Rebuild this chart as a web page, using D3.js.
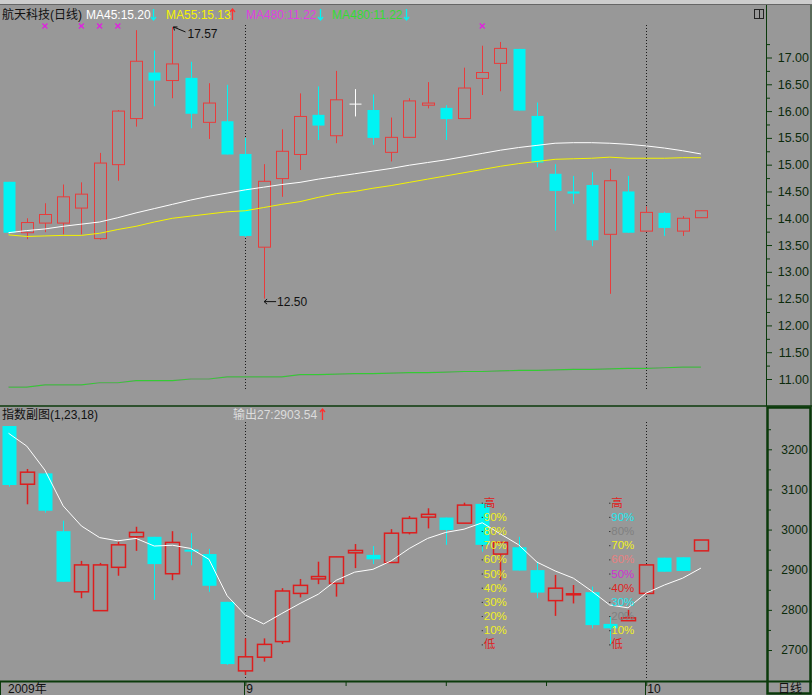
<!DOCTYPE html>
<html><head><meta charset="utf-8">
<script src="https://cdn.jsdelivr.net/npm/d3@7"></script>
<style>
html,body{margin:0;padding:0;background:#989898;overflow:hidden;}
svg{display:block;}
text{font-family:"Liberation Sans","Noto Sans CJK SC",sans-serif;}
</style></head><body>
<svg id="c" width="812" height="695"></svg>
<script>
// ---------- DATA ----------
const dates = ["08-13","08-14","08-17","08-18","08-19","08-20","08-21","08-24","08-25","08-26","08-27","08-28","08-31",
 "09-01","09-02","09-03","09-04","09-07","09-08","09-09","09-10","09-11","09-14","09-15","09-16","09-17","09-18",
 "09-21","09-22","09-23","09-24","09-25","09-28","09-29","09-30","10-09","10-12","10-13","10-14"];
const stockOpen  = [14.68,13.73,13.91,13.91,14.19,13.62,15.00,15.86,16.72,16.57,16.62,15.79,15.81,15.20,13.46,14.74,15.19,15.93,15.54,16.13,16.02,15.23,15.51,16.11,16.06,15.86,16.61,16.89,17.16,15.91,14.83,14.50,14.62,13.70,14.50,13.76,14.10,13.76,14.01];
const stockHigh  = [14.68,14.00,14.28,14.63,14.67,15.22,16.02,17.51,17.13,17.57,16.92,16.52,16.49,15.50,15.01,15.66,16.33,16.46,16.75,16.41,16.31,15.88,16.24,16.54,16.11,16.81,17.22,17.29,17.16,16.16,15.01,14.79,14.86,14.92,14.79,14.22,14.12,14.04,14.14];
const stockLow   = [13.70,13.61,13.74,13.70,13.70,13.60,14.70,15.71,16.09,16.24,15.68,15.48,15.19,13.65,12.50,14.40,14.90,15.46,15.40,15.90,15.37,15.06,15.50,16.05,15.46,15.86,16.30,16.37,16.01,14.95,13.77,14.27,13.48,12.59,13.73,13.76,13.67,13.67,14.01];
const stockClose = [13.73,13.92,14.07,14.40,14.45,15.03,16.00,16.93,16.57,16.88,15.95,16.15,15.19,13.67,14.69,15.25,15.90,15.73,16.21,16.13,15.50,15.51,16.19,16.15,15.85,16.43,16.72,17.17,16.01,15.04,14.51,14.46,13.59,14.70,13.73,14.11,13.82,14.00,14.14];
const ma45  = [13.73,13.77,13.80,13.85,13.89,13.93,14.01,14.10,14.18,14.26,14.34,14.41,14.47,14.53,14.58,14.63,14.67,14.73,14.78,14.83,14.88,14.93,14.99,15.04,15.09,15.15,15.21,15.27,15.32,15.36,15.40,15.41,15.41,15.40,15.38,15.35,15.31,15.26,15.20];
const ma55  = [13.69,13.66,13.67,13.68,13.68,13.72,13.79,13.85,13.93,14.00,14.04,14.08,14.12,14.14,14.20,14.26,14.31,14.39,14.46,14.50,14.56,14.61,14.67,14.73,14.79,14.85,14.91,14.97,15.02,15.06,15.10,15.11,15.12,15.14,15.12,15.12,15.12,15.13,15.13];
const ma480 = [10.85,10.85,10.89,10.89,10.89,10.93,10.93,10.97,10.97,10.97,11.00,11.00,11.04,11.04,11.04,11.04,11.08,11.08,11.09,11.10,11.10,11.11,11.12,11.12,11.13,11.14,11.14,11.15,11.16,11.16,11.17,11.18,11.18,11.19,11.20,11.20,11.21,11.22,11.22];
const signalDays = [2,4,5,6,26];

const idxOpen  = [3258,3113,3140,2996,2845,2798,2906,2982,2982,2890,2950,2939,2820,2648,2682,2721,2841,2877,2866,2942,2937,2918,2992,3031,3030,3016,3064,2939,2956,2899,2823,2838,2844,2765,2773,2841,2930,2931,2947];
const idxHigh  = [3258,3151,3140,3022,2922,2917,2970,3007,2982,2996,2991,2952,2820,2729,2729,2854,2877,2920,2932,2964,2959,3001,3034,3053,3030,3067,3064,2968,2982,2920,2887,2862,2858,2783,2800,2912,2930,2931,2974];
const idxLow   = [3107,3063,3042,2870,2829,2798,2885,2947,2825,2874,2911,2845,2663,2638,2671,2715,2831,2864,2833,2904,2914,2918,2988,3003,2962,3016,2945,2874,2898,2829,2785,2816,2754,2715,2773,2841,2895,2897,2947];
const idxClose = [3111,3143,3047,2870,2912,2912,2962,2993,2914,2968,2945,2860,2665,2683,2714,2847,2861,2883,2932,2948,2926,2991,3028,3038,2999,3061,2962,2968,2898,2843,2854,2840,2762,2754,2780,2912,2895,2897,2974];
const idxOut   = [3240,3208,3148,3059,3009,2980,2972,2978,2959,2961,2953,2926,2835,2787,2765,2791,2816,2839,2874,2894,2901,2922,2953,2978,2993,3001,3017,2989,2962,2919,2897,2879,2847,2812,2805,2842,2862,2879,2904];

const priceTicks = [11,11.5,12,12.5,13,13.5,14,14.5,15,15.5,16,16.5,17];
const indexTicks = [2700,2800,2900,3000,3100,3200];
const monthTickIdx = [13,35];
const monthLabels = ["9","10"];
const yearLabel = "2009年";
const pctLabels = ["高","90%","80%","70%","60%","50%","40%","30%","20%","10%","低"];
const pctColorsA = ["#e02020","#f0f020","#f0f020","#f0f020","#f0f020","#f0f020","#f0f020","#f0f020","#f0f020","#f0f020","#e02020"];
const pctColorsB = ["#e02020","#20e8f0","#808080","#f0f020","#e88080","#d030d0","#e02020","#20e8f0","#808080","#f0f020","#e02020"];
const pctColumns = [26,33];
const pctTop = 3067, pctBottom = 2714;

// ---------- SCALES ----------
const BG = "#989898", RED = "#e83c3c", RED2 = "#dd1e1e", CYAN = "#00f4f4", GRID = "#0b3a0b";
const svg = d3.select("#c");
const x  = d3.scaleLinear().domain([0, 38]).range([8.5, 700.9]);
const yT = d3.scaleLinear().domain([11, 17]).range([379, 57.5]);
const yB = d3.scaleLinear().domain([2700, 3200]).range([650, 449.3]);

svg.append("rect").attr("width",812).attr("height",695).attr("fill",BG);
svg.append("rect").attr("width",812).attr("height",4).attr("fill","#cdcdcd");
svg.append("line").attr("x1",0).attr("x2",812).attr("y1",4.5).attr("y2",4.5).attr("stroke","#666");

const defs = svg.append("defs");
defs.append("clipPath").attr("id","cpT").append("rect").attr("x",0).attr("y",6).attr("width",766).attr("height",399);
defs.append("clipPath").attr("id","cpB").append("rect").attr("x",0).attr("y",408).attr("width",766).attr("height",272);

const gT = svg.append("g").attr("clip-path","url(#cpT)");
const gB = svg.append("g").attr("clip-path","url(#cpB)");

// dotted month lines
monthTickIdx.forEach(i => {
  const xx = Math.round(x(i)) + 0.5;
  gT.append("line").attr("x1",xx).attr("x2",xx).attr("y1",25).attr("y2",390)
    .attr("stroke","#1a1a1a").attr("stroke-dasharray","1,2");
  gB.append("line").attr("x1",xx).attr("x2",xx).attr("y1",422).attr("y2",680)
    .attr("stroke","#1a1a1a").attr("stroke-dasharray","1,2");
});

// ---------- CANDLES ----------
function candles(g, O, H, L, C, y, w, up, sw) {
  const data = O.map((o,i)=>({i, o, h:H[i], l:L[i], c:C[i]}));
  const col = d => d.c > d.o ? up : (d.c < d.o ? CYAN : "#ffffff");
  const cx = d => Math.round(x(d.i)) + 0.5;
  g.selectAll(null).data(data).join("line")
    .attr("x1",cx).attr("x2",cx).attr("y1",d=>y(d.h)).attr("y2",d=>y(d.l))
    .attr("stroke",col).attr("stroke-width",d=>d.c>d.o?sw:1);
  g.selectAll(null).data(data.filter(d=>d.c!==d.o)).join("rect")
    .attr("x",d=>cx(d)-w/2).attr("width",w)
    .attr("y",d=>y(Math.max(d.o,d.c)))
    .attr("height",d=>Math.max(1, y(Math.min(d.o,d.c)) - y(Math.max(d.o,d.c))))
    .attr("fill",d=>d.c>d.o?BG:CYAN)
    .attr("stroke",d=>d.c>d.o?up:"none").attr("stroke-width",sw);
  g.selectAll(null).data(data.filter(d=>d.c===d.o)).join("line")
    .attr("x1",d=>cx(d)-w/2).attr("x2",d=>cx(d)+w/2)
    .attr("y1",d=>y(d.o)).attr("y2",d=>y(d.o)).attr("stroke","#ffffff");
}

// MA lines (top)
const lineT = d3.line().x((d,i)=>x(i)).y(d=>yT(d));
gT.append("path").attr("d",lineT(ma480)).attr("fill","none").attr("stroke","#e040e0");
gT.append("path").attr("d",lineT(ma480)).attr("fill","none").attr("stroke","#33cc33").attr("stroke-width",1.2);
candles(gT, stockOpen, stockHigh, stockLow, stockClose, yT, 12, RED, 1);
gT.append("path").attr("d",lineT(ma55)).attr("fill","none").attr("stroke","#f4f400");
gT.append("path").attr("d",lineT(ma45)).attr("fill","none").attr("stroke","#ffffff");

// signal marks
gT.selectAll(null).data(signalDays).join("path")
  .attr("d",d=>{const cx=x(d); return `M${cx-2.5},${23.5}L${cx+2.5},${28.5}M${cx+2.5},${23.5}L${cx-2.5},${28.5}`;})
  .attr("stroke","#e020e0").attr("stroke-width",1.3);

// high / low annotations
const hiI = d3.maxIndex(stockHigh), loI = d3.minIndex(stockLow);
{
  const hx = x(hiI)+1, hy = yT(stockHigh[hiI]);
  gT.append("path").attr("d",`M${hx},${hy}L${hx+12},${hy+5}M${hx},${hy}l4,0M${hx},${hy}l1,3.5`)
    .attr("stroke","#111").attr("fill","none");
  gT.append("text").attr("x",hx+14).attr("y",hy+11).attr("font-size",12).attr("fill","#111")
    .text(d3.format(".2f")(stockHigh[hiI]));
  const lx = x(loI)+0.5, ly = yT(stockLow[loI]) + 3;
  gT.append("path").attr("d",`M${lx},${ly}L${lx+12},${ly}M${lx},${ly}l3,-2.5M${lx},${ly}l3,2.5`)
    .attr("stroke","#111").attr("fill","none");
  gT.append("text").attr("x",lx+13).attr("y",ly+4.5).attr("font-size",12).attr("fill","#111")
    .text(d3.format(".2f")(stockLow[loI]));
}

// ---------- BOTTOM PANEL ----------
candles(gB, idxOpen, idxHigh, idxLow, idxClose, yB, 14, RED2, 1.5);
const lineB = d3.line().x((d,i)=>x(i)).y(d=>yB(d));
gB.append("path").attr("d",lineB(idxOut)).attr("fill","none").attr("stroke","#ffffff");

// percent ladders
pctColumns.forEach((ci,k)=>{
  const cols = k===0 ? pctColorsA : pctColorsB;
  const x0 = x(ci) - 0.5;
  pctLabels.forEach((lab,j)=>{
    const v = pctTop - (pctTop-pctBottom)*j/10;
    const yy = yB(v);
    gB.append("rect").attr("x",x0).attr("y",yy).attr("width",1).attr("height",1).attr("fill","#111");
    gB.append("text").attr("x",x0+2).attr("y",yy+4).attr("font-size",11.5).attr("fill",cols[j]).text(lab);
  });
});

// ---------- AXES ----------
// right price axis
svg.append("line").attr("x1",766.5).attr("x2",766.5).attr("y1",5).attr("y2",406).attr("stroke",GRID);
svg.append("line").attr("x1",811).attr("x2",811).attr("y1",5).attr("y2",406).attr("stroke","#1d3d1d");
const axT = svg.append("g").attr("transform","translate(767,0)")
  .call(d3.axisRight(yT).tickValues(priceTicks).tickFormat(d3.format(".2f")).tickSize(5).tickPadding(0));
const minorT = priceTicks.map(t=>t+0.25);
const axTm = svg.append("g").attr("transform","translate(767,0)")
  .call(d3.axisRight(yT).tickValues(minorT).tickFormat("").tickSize(3));
[axT, axTm].forEach(a=>{ a.select(".domain").remove(); a.selectAll("line").attr("stroke",GRID); });
axT.selectAll("text").attr("x",42).attr("text-anchor","end").attr("fill","#0b2a0b")
  .style("font-size","12.5px").style("font-family","'Liberation Sans',sans-serif");

// separator
svg.append("line").attr("x1",0).attr("x2",812).attr("y1",406).attr("y2",406).attr("stroke",GRID).attr("stroke-width",1.5);

// bottom axis box
svg.append("rect").attr("x",767.5).attr("y",407.5).attr("width",43).attr("height",286)
  .attr("fill","none").attr("stroke",GRID).attr("stroke-width",2.5);
const axB = svg.append("g").attr("transform","translate(768,0)")
  .call(d3.axisRight(yB).tickValues(indexTicks).tickFormat(d3.format("d")).tickSize(4).tickPadding(0));
const axBm = svg.append("g").attr("transform","translate(768,0)")
  .call(d3.axisRight(yB).tickValues(indexTicks.map(t=>t+50)).tickFormat("").tickSize(3));
[axB, axBm].forEach(a=>{ a.select(".domain").remove(); a.selectAll("line").attr("stroke",GRID); });
axB.selectAll("text").attr("x",40).attr("text-anchor","end").attr("fill","#0b2a0b")
  .style("font-size","12px").style("font-family","'Liberation Sans',sans-serif");

// bottom date axis
svg.append("line").attr("x1",0).attr("x2",812).attr("y1",681.5).attr("y2",681.5).attr("stroke",GRID).attr("stroke-width",2);
svg.append("line").attr("x1",0.5).attr("x2",0.5).attr("y1",681).attr("y2",695).attr("stroke",GRID);
const xt = monthTickIdx.map(i=>x(i));
const minorX = [1,2,3].map(k=>x(monthTickIdx[0] + (monthTickIdx[1]-monthTickIdx[0])*k/4));
const axX = svg.append("g").attr("transform","translate(0,682)")
  .call(d3.axisBottom(d3.scaleIdentity()).tickValues(xt.concat(minorX)).tickFormat("").tickSize(4));
axX.select(".domain").remove();
axX.selectAll("line").attr("stroke",GRID);
xt.forEach((xx,k)=>{
  svg.append("line").attr("x1",Math.round(xx)-0.5).attr("x2",Math.round(xx)-0.5).attr("y1",682).attr("y2",695).attr("stroke",GRID);
  svg.append("text").attr("x",xx+1).attr("y",693).attr("font-size",12).attr("fill","#111").text(monthLabels[k]);
});
svg.append("text").attr("x",8).attr("y",693).attr("font-size",12).attr("fill","#111").text(yearLabel);
svg.append("text").attr("x",778).attr("y",693).attr("font-size",12).attr("fill","#111").text("日线");

// ---------- LEGENDS ----------
function arrow(xx, y0, y1, color) {
  const up = y1 < y0;
  svg.append("path").attr("d",`M${xx},${y0}L${xx},${y1}M${xx-2.5},${y1+(up?3:-3)}L${xx},${y1}L${xx+2.5},${y1+(up?3:-3)}`)
    .attr("stroke",color).attr("fill","none").attr("stroke-width",1.3);
}
const leg = [
  {t:"航天科技(日线)", x:2, c:"#111"},
  {t:"MA45:" + d3.format(".2f")(ma45[38]), x:86, c:"#ffffff"},
  {t:"MA55:" + d3.format(".2f")(ma55[38]), x:166, c:"#f4f400"},
  {t:"MA480:" + d3.format(".2f")(ma480[38]), x:246, c:"#e040e0"},
  {t:"MA480:" + d3.format(".2f")(ma480[38]), x:332, c:"#33dd33"}
];
leg.forEach(l=>svg.append("text").attr("x",l.x).attr("y",19).attr("font-size",12).attr("fill",l.c).text(l.t));
arrow(153.5, 9, 20, CYAN);
arrow(232.5, 20, 9, "#ff3030");
arrow(320.5, 9, 20, CYAN);
arrow(406.5, 9, 20, CYAN);
// small window icon
svg.append("rect").attr("x",754.5).attr("y",9.5).attr("width",9).attr("height",9).attr("fill","none").attr("stroke","#222");
svg.append("line").attr("x1",759.5).attr("x2",759.5).attr("y1",9.5).attr("y2",18.5).attr("stroke","#222");

svg.append("text").attr("x",2).attr("y",419).attr("font-size",12).attr("fill","#111").text("指数副图(1,23,18)");
svg.append("text").attr("x",233).attr("y",419).attr("font-size",12).attr("fill","#dcdcdc")
  .text("输出27:" + d3.format(".2f")(2903.54));
arrow(322.5, 420, 409, "#ff3030");
</script></body></html>
